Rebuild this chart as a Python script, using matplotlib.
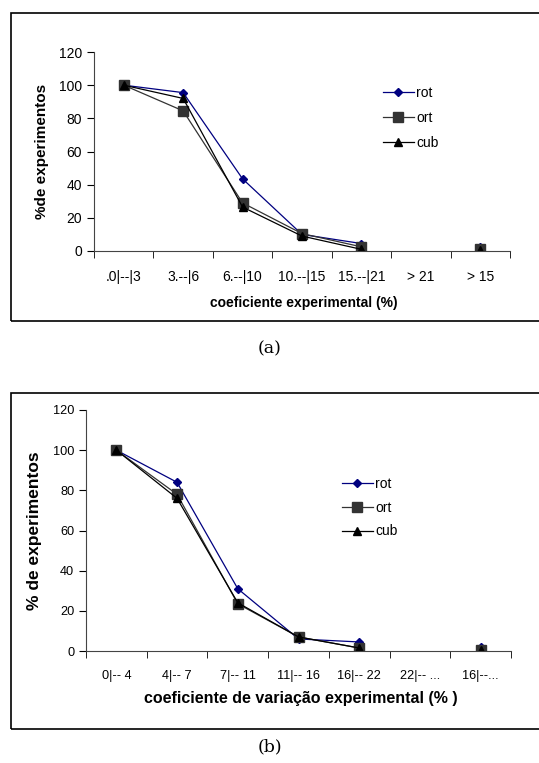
import numpy as np
import matplotlib
matplotlib.use("Agg")
import matplotlib.pyplot as plt
from matplotlib.patches import Rectangle

plt.rcParams['font.family'] = ['Liberation Sans', 'DejaVu Sans']

# panel (a)
cats_a = [".0|--|3", "3.--|6", "6.--|10", "10.--|15", "15.--|21", "> 21", "> 15"]
rot_a = [100, 95.5, 43.5, 10, 4.5, np.nan, 2.5]
ort_a = [100, 84.5, 29, 10.5, 2.5, np.nan, 1]
cub_a = [100, 92, 26.5, 9, 1, np.nan, 0.5]

# panel (b)
cats_b = ["0|-- 4", "4|-- 7", "7|-- 11", "11|-- 16", "16|-- 22", "22|-- ...", "16|--..."]
rot_b = [100, 84, 31, 6, 4.5, np.nan, 2]
ort_b = [100, 78, 23.5, 7, 1.5, np.nan, 0.5]
cub_b = [100, 76, 24, 7, 1.5, np.nan, 0.5]

W, H = 539, 763
fig = plt.figure(figsize=(W / 100, H / 100), dpi=100)


def fx(px):
    return px / W


def fy(py):
    return 1 - py / H


def panel(box, ax_box, cats, rot, ort, cub, tick_fs, leg_fs, xlabel, ylabel,
          ylab_fs, xlab_fs, ylab_x, xlab_y, leg_xy, leg_sp, caption, cap_y):
    # outer frame
    x0, y0, x1, y1 = box
    fig.patches.append(Rectangle((fx(x0), fy(y1)), fx(x1 - x0), (y1 - y0) / H,
                                 transform=fig.transFigure, fill=False,
                                 edgecolor='black', linewidth=1.2))
    l, t, r, b = ax_box
    ax = fig.add_axes([fx(l), fy(b), fx(r - l), (b - t) / H])
    x = np.arange(len(cats))
    ax.plot(x, rot, color='#000080', marker='D', markersize=4.5, linewidth=0.9,
            label='rot')
    ax.plot(x, ort, color='#333333', marker='s', markersize=6.5, linewidth=0.9,
            label='ort')
    ax.plot(x, cub, color='black', marker='^', markersize=5.5, linewidth=0.9,
            label='cub')
    ax.set_xlim(-0.5, len(cats) - 0.5)
    ax.set_ylim(0, 120)
    ax.set_yticks(range(0, 121, 20))
    ax.set_xticks(x)
    ax.set_xticklabels(cats, fontsize=tick_fs)
    ax.set_xticks(np.arange(-0.5, len(cats), 1), minor=True)
    ax.tick_params(axis='x', which='major', length=0, pad=14)
    ax.tick_params(axis='x', which='minor', length=5, direction='out')
    ax.tick_params(axis='y', labelsize=tick_fs, length=5, direction='out')
    for s in ['top', 'right']:
        ax.spines[s].set_visible(False)
    ax.spines['bottom'].set_color('#444444')
    ax.spines['left'].set_color('#444444')

    fig.text(fx(ylab_x), fy((t + b) / 2), ylabel, rotation=90, fontsize=ylab_fs,
             fontweight='bold', ha='center', va='center')
    fig.text(fx((l + r) / 2 + 2), fy(xlab_y), xlabel, fontsize=xlab_fs,
             fontweight='bold', ha='center', va='center')
    ax.legend(loc='upper left', bbox_to_anchor=(fx(leg_xy[0]), fy(leg_xy[1])),
              bbox_transform=fig.transFigure, frameon=False, fontsize=leg_fs,
              handlelength=2.2, handletextpad=0.2, labelspacing=leg_sp,
              borderpad=0, borderaxespad=0)
    fig.text(0.5, fy(cap_y), caption, fontsize=12.5, family='DejaVu Serif',
             ha='center', va='center')
    return ax


panel((11, 13, 545, 321), (94, 52, 510, 251), cats_a, rot_a, ort_a, cub_a,
      10, 10, "coeficiente experimental (%)", "%de experimentos", 11, 10,
      42, 303, (383, 86), 0.78, "(a)", 349)

panel((11, 393, 545, 729), (86, 410, 511, 651), cats_b, rot_b, ort_b, cub_b,
      9.2, 10, "coeficiente de variação experimental (% )", "% de experimentos",
      12.5, 11.5, 35, 699, (342, 477), 0.7, "(b)", 747)

fig.savefig("out.png", dpi=100)
